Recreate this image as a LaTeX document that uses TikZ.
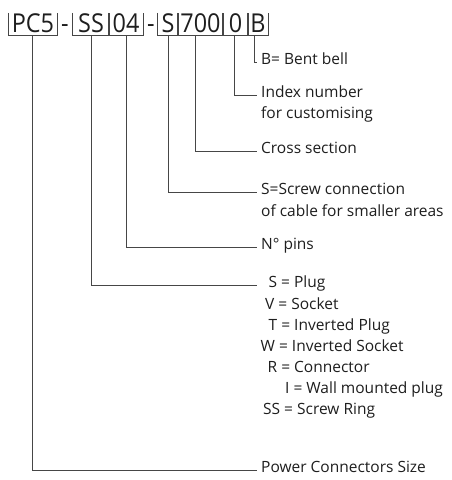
\documentclass[tikz,border=0pt]{standalone}
\usepackage{fontspec}
\setmainfont{Open Sans}
\definecolor{lncol}{RGB}{70,70,70}
\definecolor{txcol}{RGB}{30,30,30}
\newcommand{\hdr}[1]{\scalebox{0.9}[1]{\fontsize{26}{30}\selectfont #1}}
\begin{document}
\begin{tikzpicture}[x=1pt,y=-1pt,
  seg/.style={inner sep=0pt, text height=19pt, text depth=3pt, minimum width=#1, text=txcol},
  dashnode/.style={inner sep=0pt, text height=19pt, text depth=3pt, text=txcol},
  br/.style={draw=lncol, line width=1pt},
  ln/.style={draw=lncol, line width=1pt},
  lbl/.style={anchor=mid west, inner xsep=4pt, inner ysep=0pt, font=\fontsize{15.5}{21}\selectfont, text=txcol},
  lst/.style={anchor=mid west, inner sep=0pt, font=\fontsize{15.5}{21}\selectfont, text=txcol}]
\useasboundingbox[fill=white] (0,0) rectangle (451,480);
% header segments
\node[seg=48pt] (pc5) at (33,24) {\hdr{PC5}};
\node[dashnode] (d1) at (65,24) {\hdr{-}};
\node[seg=36pt] (ss) at (91,24) {\hdr{SS}};
\node[seg=34pt] (n04) at (126,24) {\hdr{04}};
\node[dashnode] (d2) at (151,24) {\hdr{-}};
\node[seg=20pt] (nS) at (168,24) {\hdr{S}};
\node[seg=45pt] (n700) at (200.5,24) {\hdr{700}};
\node[seg=25pt] (n0) at (235.5,24) {\hdr{0}};
\node[seg=20pt] (nB) at (258,24) {\hdr{B}};
\foreach \n in {pc5,ss,n04,nS,n700,n0,nB}
  \draw[br] (\n.north west) -- (\n.south west) -- (\n.south east) -- (\n.north east);
% labels
\node[lbl] (tB) at (257,62) {B= Bent bell};
\node[lbl] (tIdx) at (257,95) {Index number};
\node[lbl] (tIdx2) at (257,116) {for customising};
\node[lbl] (tCross) at (257,151) {Cross section};
\node[lbl] (tScrew) at (257,192) {S=Screw connection};
\node[lbl] (tScrew2) at (257,214) {of cable for smaller areas};
\node[lbl] (tPins) at (257,247) {N° pins};
\coordinate (ePlug) at (257,285);
\node[lst] (p1) at (268.5,285) {S = Plug};
\node[lst] (p2) at (265,307) {V = Socket};
\node[lst] (p3) at (268.5,328) {T = Inverted Plug};
\node[lst] (p4) at (260.5,349) {W = Inverted Socket};
\node[lst] (p5) at (267.5,370) {R = Connector};
\node[lst] (p6) at (285,391) {I = Wall mounted plug};
\node[lst] (p7) at (263,412) {SS = Screw Ring};
\node[lbl] (tPow) at (257,470) {Power Connectors Size};
% connectors
\draw[ln] ([xshift=-3.5pt]nB.south) |- (tB.mid west);
\draw[ln] ([xshift=-1.5pt]n0.south) |- (tIdx.mid west);
\draw[ln] ([xshift=-5.5pt]n700.south) |- (tCross.mid west);
\draw[ln] (nS.south) |- (tScrew.mid west);
\draw[ln] (n04.south) |- (tPins.mid west);
\draw[ln] (ss.south) |- (ePlug);
\draw[ln] ([xshift=-1pt]pc5.south) |- (tPow.mid west);
\end{tikzpicture}
\end{document}
